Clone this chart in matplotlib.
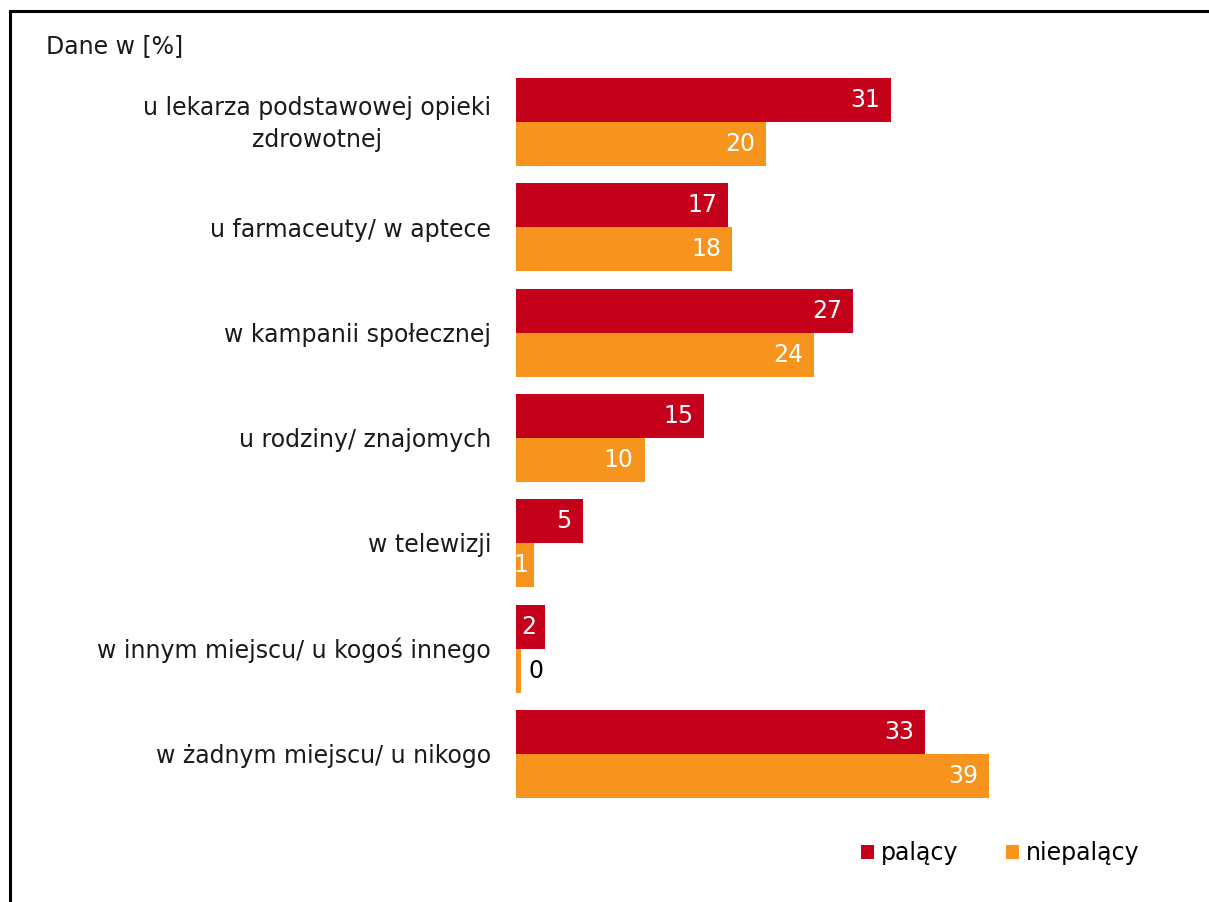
import matplotlib
matplotlib.use("Agg")
import matplotlib.pyplot as plt
from matplotlib.patches import Patch
from matplotlib.lines import Line2D

categories = [
    "u lekarza podstawowej opieki\nzdrowotnej",
    "u farmaceuty/ w aptece",
    "w kampanii społecznej",
    "u rodziny/ znajomych",
    "w telewizji",
    "w innym miejscu/ u kogoś innego",
    "w żadnym miejscu/ u nikogo",
]
palacy = [30.9, 17.5, 27.8, 15.5, 5.5, 2.4, 33.7]
niepalacy = [20.6, 17.8, 24.6, 10.6, 1.5, 0.4, 39.0]
palacy_labels = ["31", "17", "27", "15", "5", "2", "33"]
niepalacy_labels = ["20", "18", "24", "10", "1", "0", "39"]

RED = "#C5001A"
ORANGE = "#F7941D"

W, H = 1209, 902
fig = plt.figure(figsize=(W / 100, H / 100), dpi=100)
plt.rcParams["font.family"] = ["DejaVu Sans"]
fs = 17

# axes placed so that one x unit ~ 12.13 px and groups are ~105 px apart
ax = fig.add_axes([516 / W, 1 - 827.5 / H, 606.5 / W, 779 / H])
ax.set_xlim(0, 50)
ax.set_ylim(6.7, -0.7)
ax.axis("off")

h = 0.418
ys = list(range(len(categories)))
ax.barh([y - h / 2 for y in ys], palacy, height=h, color=RED, linewidth=0)
ax.barh([y + h / 2 for y in ys], niepalacy, height=h, color=ORANGE, linewidth=0)

pad = 0.9
for y, v, lab in zip(ys, palacy, palacy_labels):
    ax.text(v - min(pad, v * 0.3), y - h / 2, lab, ha="right", va="center", color="white", fontsize=fs)
for y, v, lab in zip(ys, niepalacy, niepalacy_labels):
    if v < 1:
        ax.text(v + 0.6, y + h / 2, lab, ha="left", va="center", color="black", fontsize=fs)
    else:
        ax.text(v - min(pad, v * 0.3), y + h / 2, lab, ha="right", va="center", color="white", fontsize=fs)

for y, c in zip(ys, categories):
    ax.text(-2.06, y + 0.02, c, ha="right", va="center", multialignment="center",
            fontsize=fs, color="#1a1a1a", linespacing=1.4)

fig.text(46 / W, 1 - 46 / H, "Dane w [%]", ha="left", va="center", fontsize=fs, color="#1a1a1a")

handles = [Patch(facecolor=RED, edgecolor="none"), Patch(facecolor=ORANGE, edgecolor="none")]
fig.legend(handles, ["palący", "niepalący"], loc="center left",
           bbox_to_anchor=(861 / W, 1 - 853 / H), ncol=2, frameon=False, borderpad=0,
           borderaxespad=0, fontsize=fs, handlelength=0.55, handleheight=0.55,
           handletextpad=0.3, columnspacing=2.0)

# frame lines on left and top
fig.add_artist(Line2D([10 / W, 10 / W], [0, 1 - 10.5 / H], color="black", lw=2.2))
fig.add_artist(Line2D([10 / W, 1], [1 - 10.5 / H, 1 - 10.5 / H], color="black", lw=2.2))

fig.savefig("out.png", dpi=100)
